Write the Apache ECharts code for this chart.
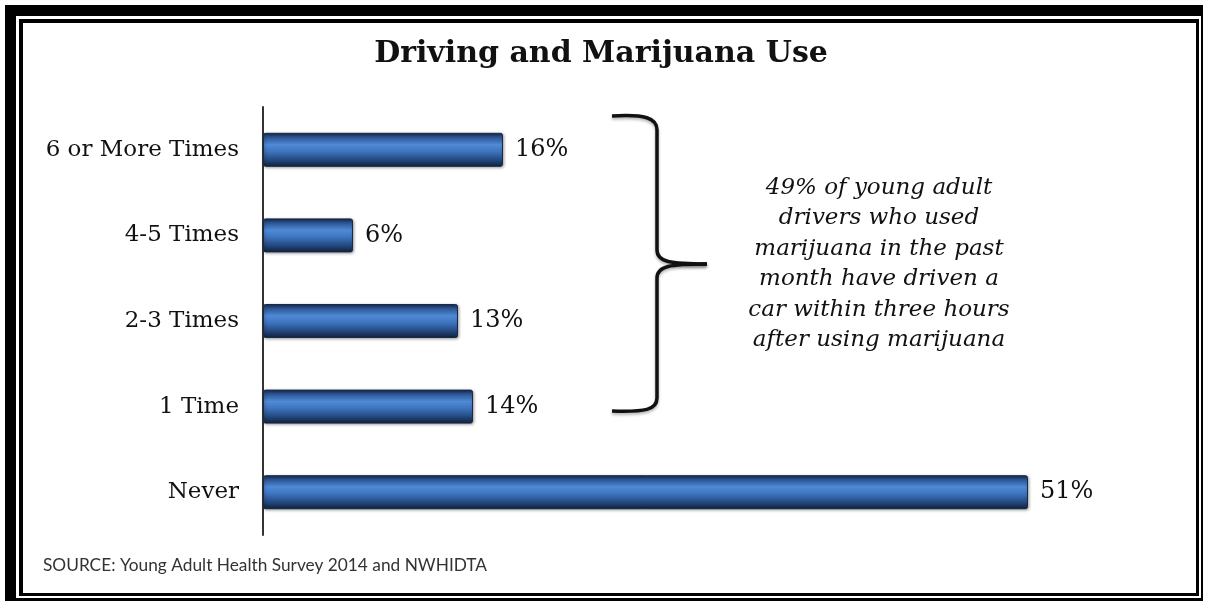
<!DOCTYPE html>
<html>
<head>
<meta charset="utf-8">
<script src="https://cdn.jsdelivr.net/npm/echarts@6/dist/echarts.min.js"></script>
<style>
html,body{margin:0;padding:0;background:#fff;}
#chart{width:1206px;height:607px;}
</style>
</head>
<body>
<div id="chart"></div>
<script>
const categories = ["Never", "1 Time", "2-3 Times", "4-5 Times", "6 or More Times"];
const values = [51, 14, 13, 6, 16];
const titleText = "Driving and Marijuana Use";
const noteLines = [
  "49% of young adult",
  "drivers who used",
  "marijuana in the past",
  "month have driven a",
  "car within three hours",
  "after using marijuana"
];
const sourceText = "SOURCE: Young Adult Health Survey 2014 and NWHIDTA";

const chart = echarts.init(document.getElementById('chart'));

const barGradient = new echarts.graphic.LinearGradient(0, 0, 0, 1, [
  {offset: 0, color: '#16284a'},
  {offset: 0.12, color: '#2a5290'},
  {offset: 0.35, color: '#4f8ad6'},
  {offset: 0.55, color: '#3d74be'},
  {offset: 0.8, color: '#23487f'},
  {offset: 1, color: '#111f38'}
]);

const braceStyle = {fill: null, stroke: '#111', lineWidth: 3.5, shadowColor: 'rgba(0,0,0,0.3)', shadowBlur: 3, shadowOffsetY: 2};
const serif = 'DejaVu Serif';

chart.setOption({
  animation: false,
  backgroundColor: '#ffffff',
  grid: {left: 263, right: 43, top: 107, bottom: 72, containLabel: false},
  xAxis: {
    type: 'value', min: 0, max: 60,
    show: false
  },
  yAxis: {
    type: 'category',
    data: categories,
    axisLine: {show: true, lineStyle: {color: '#333', width: 2}},
    axisTick: {show: false},
    axisLabel: {
      margin: 24,
      fontFamily: serif,
      fontSize: 23,
      color: '#111'
    }
  },
  series: [{
    type: 'bar',
    data: values,
    barWidth: 34,
    itemStyle: {
      color: barGradient,
      borderColor: '#1a2a44',
      borderWidth: 1,
      borderRadius: 2,
      shadowColor: 'rgba(0,0,0,0.35)',
      shadowBlur: 3,
      shadowOffsetX: 1,
      shadowOffsetY: 1
    },
    label: {
      show: true,
      position: 'right',
      distance: 12,
      formatter: '{c}%',
      fontFamily: serif,
      fontSize: 24,
      color: '#111'
    }
  }],
  graphic: [
    {type: 'rect', silent: true, z: -10, shape: {x: 5, y: 5, width: 1198, height: 596}, style: {fill: '#000'}},
    {type: 'rect', silent: true, z: -9, shape: {x: 16, y: 16, width: 1185, height: 582}, style: {fill: '#fff'}},
    {type: 'rect', silent: true, z: -8, shape: {x: 19, y: 19, width: 1180, height: 577}, style: {fill: '#000'}},
    {type: 'rect', silent: true, z: -7, shape: {x: 23, y: 23, width: 1173, height: 570}, style: {fill: '#fff'}},
    {type: 'text', silent: true, x: 601, y: 54, style: {
      text: titleText, align: 'center', verticalAlign: 'middle',
      fontFamily: serif, fontWeight: 'bold', fontSize: 30, fill: '#111'
    }},
    {type: 'bezierCurve', silent: true, shape: {x1: 612, y1: 116, x2: 657, y2: 130, cpx1: 645, cpy1: 114, cpx2: 657, cpy2: 118}, style: braceStyle},
    {type: 'line', silent: true, shape: {x1: 657, y1: 130, x2: 657, y2: 250}, style: braceStyle},
    {type: 'bezierCurve', silent: true, shape: {x1: 657, y1: 250, x2: 707, y2: 264, cpx1: 657, cpy1: 262, cpx2: 670, cpy2: 264}, style: braceStyle},
    {type: 'bezierCurve', silent: true, shape: {x1: 707, y1: 264, x2: 657, y2: 278, cpx1: 670, cpy1: 264, cpx2: 657, cpy2: 266}, style: braceStyle},
    {type: 'line', silent: true, shape: {x1: 657, y1: 278, x2: 657, y2: 398}, style: braceStyle},
    {type: 'bezierCurve', silent: true, shape: {x1: 657, y1: 398, x2: 612, y2: 411, cpx1: 657, cpy1: 410, cpx2: 645, cpy2: 412}, style: braceStyle},
    {type: 'text', silent: true, x: 879, y: 264, style: {
      text: noteLines.join('\n'), align: 'center', verticalAlign: 'middle',
      fontFamily: serif, fontStyle: 'italic', fontSize: 23, lineHeight: 30.5, fill: '#111'
    }},
    {type: 'text', silent: true, x: 43, y: 565, style: {
      text: sourceText, verticalAlign: 'middle', fontFamily: 'Lato', fontSize: 17.3, fill: '#333'
    }}
  ]
});
</script>
</body>
</html>
